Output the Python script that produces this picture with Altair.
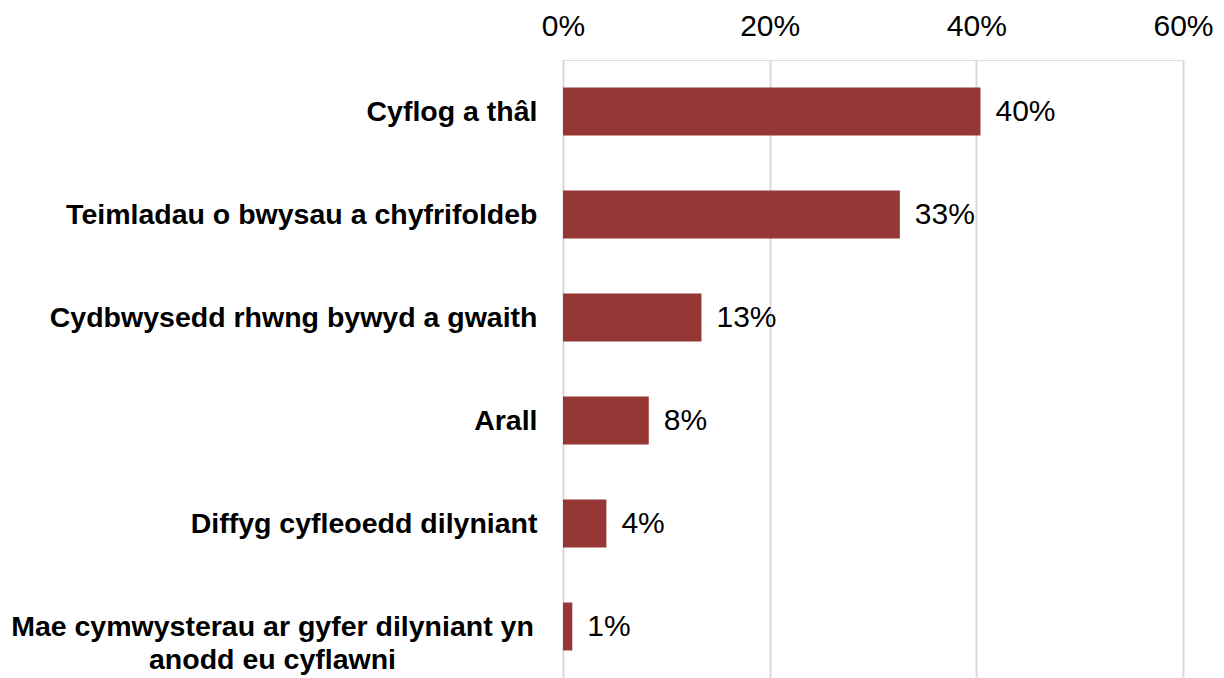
import altair as alt
import pandas as pd

categories = [
    "Cyflog a thâl",
    "Teimladau o bwysau a chyfrifoldeb",
    "Cydbwysedd rhwng bywyd a gwaith",
    "Arall",
    "Diffyg cyfleoedd dilyniant",
    "Mae cymwysterau ar gyfer dilyniant yn|anodd eu cyflawni",
]
values = [0.404, 0.326, 0.134, 0.083, 0.042, 0.009]
value_labels = ["40%", "33%", "13%", "8%", "4%", "1%"]
x_ticks = [0, 0.2, 0.4, 0.6]

df = pd.DataFrame({"cat": categories, "val": values, "lab": value_labels})

FONT = "Liberation Sans"
long_label = categories[-1]

y_enc = alt.Y(
    "cat:N",
    sort=categories,
    title=None,
    scale=alt.Scale(paddingInner=0.535, paddingOuter=0.2675),
    axis=alt.Axis(
        domain=False,
        ticks=False,
        labelFont=FONT,
        labelFontSize=28.5,
        labelFontWeight="bold",
        labelColor="#000000",
        labelLimit=700,
        labelLineHeight=33,
        labelExpr="split(datum.label, '|')",
        labelAlign={"condition": {"test": f"datum.value == '{long_label}'", "value": "center"}, "value": "right"},
        labelPadding={"condition": {"test": f"datum.value == '{long_label}'", "value": 291}, "value": 26},
    ),
)

x_enc = alt.X(
    "val:Q",
    title=None,
    scale=alt.Scale(domain=[0, 0.6], nice=False),
    axis=alt.Axis(
        orient="top",
        values=x_ticks,
        format=".0%",
        domain=False,
        ticks=False,
        grid=True,
        gridColor="#d9d9d9",
        gridWidth=2,
        labelFont=FONT,
        labelFontSize=30,
        labelColor="#000000",
        labelPadding=19,
        labelFlush=False,
    ),
)

bars = alt.Chart(df).mark_bar(color="#953735").encode(x=x_enc, y=y_enc)

texts = alt.Chart(df).mark_text(
    align="left", baseline="middle", dx=15, font=FONT, fontSize=30, color="#000000"
).encode(x="val:Q", y=alt.Y("cat:N", sort=categories), text="lab:N")

chart = (
    alt.layer(bars, texts)
    .properties(
        width=620,
        height=618,
        autosize=alt.AutoSizeParams(type="none"),
        padding={"left": 555, "top": 52, "right": 30, "bottom": 0},
    )
    .configure_view(stroke=None)
    .configure(background="white")
)

chart.save("out.html", embed_options={"renderer": "svg", "actions": False})
